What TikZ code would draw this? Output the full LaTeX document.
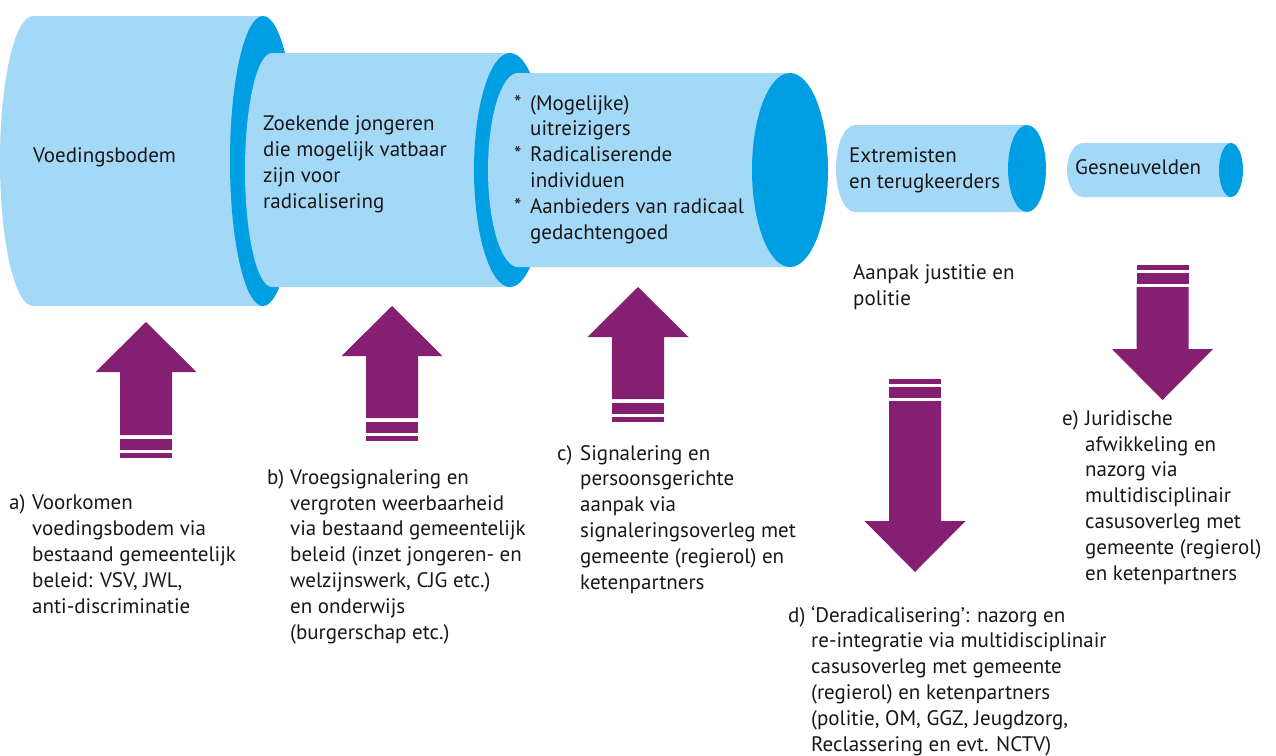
\documentclass[tikz,border=0pt]{standalone}
\usepackage{fontspec}
\setmainfont{PT Sans}
\definecolor{lightcyl}{RGB}{163,217,246}
\definecolor{darkcyl}{RGB}{0,159,227}
\definecolor{purp}{RGB}{132,31,114}
\definecolor{txtcol}{RGB}{26,23,27}
% cylinder: left x, right x, centre y, left x-radius, right x-radius, y-radius
\newcommand\mycyl[6]{%
  \fill[cylbody] (#2,#3+#6) -- (#1,#3+#6)
    arc[start angle=90,end angle=270,x radius=#4pt,y radius=#6pt]
    -- (#2,#3-#6) -- cycle;
  \fill[cylface] (#2,#3) ellipse[x radius=#5pt,y radius=#6pt];}
% up arrow: centre x, tip y, shaft bottom y (pixels, downwards)
\newcommand\myuparr[3]{%
  \fill[arrfill] (#1,-#2) -- (#1+50.5,-#2-50) -- (#1+26,-#2-50) -- (#1+26,-#3)
    -- (#1-26,-#3) -- (#1-26,-#2-50) -- (#1-50.5,-#2-50) -- cycle;
  \fill[arrfill] (#1-26,-#3-4) rectangle (#1+26,-#3-15);
  \fill[arrfill] (#1-26,-#3-18) rectangle (#1+26,-#3-23);}
% down arrow: centre x, shaft top y, tip y
\newcommand\mydownarr[3]{%
  \fill[arrfill] (#1,-#3) -- (#1+50.5,-#3+51) -- (#1+26,-#3+51) -- (#1+26,-#2)
    -- (#1-26,-#2) -- (#1-26,-#3+51) -- (#1-50.5,-#3+51) -- cycle;
  \fill[arrfill] (#1-26,-#2+3) rectangle (#1+26,-#2+14);
  \fill[arrfill] (#1-26,-#2+17) rectangle (#1+26,-#2+22);}
\newcommand\lab[1]{\makebox[23pt][l]{#1}}
\newcommand\ind{\hspace*{23pt}}
\newcommand\bul{\makebox[16pt][l]{*}}
\newcommand\bind{\hspace*{16pt}}
\begin{document}
\begin{tikzpicture}[x=1pt,y=1pt,
  txt/.style={font=\fontsize{21}{25.8}\selectfont, align=left, inner sep=0pt,
    anchor=base west, text=txtcol},
  cylbody/.style={fill=lightcyl},
  cylface/.style={fill=darkcyl},
  arrfill/.style={fill=purp}]
\useasboundingbox (0,0) rectangle (1276,-755);
\fill[white] (0,0) rectangle (1276,-755);
% cylinders
\mycyl{33}{263}{-161}{33}{33}{145}
\mycyl{272}{510}{-170}{27}{36}{117}
\mycyl{518}{790}{-170}{30}{38}{97}
\mycyl{855}{1027}{-168.5}{19}{19}{43.5}
\mycyl{1083}{1231}{-170}{16}{12}{27}
% cylinder texts (anchor = baseline of last line)
\node[txt] (t1) at (33,-162) {Voedingsbodem};
\node[txt] (t2) at (263,-208) {Zoekende jongeren\\die mogelijk vatbaar\\zijn voor\\radicalisering};
\node[txt] (t3) at (514,-239) {\bul(Mogelijke)\\\bind uitreizigers\\\bul Radicaliserende\\\bind individuen\\\bul Aanbieders van radicaal\\\bind gedachtengoed};
\node[txt] (t4) at (849,-188) {Extremisten\\en terugkeerders};
\node[txt] (t5) at (1075,-174) {Gesneuvelden};
\node[txt] (aanpak) at (853,-305) {Aanpak justitie en\\politie};
% arrows
\myuparr{146}{322}{435}
\myuparr{392}{306}{418}
\myuparr{638}{287}{399}
\mydownarr{915}{401}{572}
\mydownarr{1162.5}{287}{400}
% labels
\node[txt] (la) at (9,-613) {\lab{a)}Voorkomen\\\ind voedingsbodem via\\\ind bestaand gemeentelijk\\\ind beleid: VSV, JWL,\\\ind anti-discriminatie};
\node[txt] (lb) at (267,-639) {\lab{b)}Vroegsignalering en\\\ind vergroten weerbaarheid\\\ind via bestaand gemeentelijk\\\ind beleid (inzet jongeren- en\\\ind welzijnswerk, CJG etc.)\\\ind en onderwijs\\\ind (burgerschap etc.)};
\node[txt] (lc) at (557,-589) {\lab{c)}Signalering en\\\ind persoonsgerichte\\\ind aanpak via\\\ind signaleringsoverleg met\\\ind gemeente (regierol) en\\\ind ketenpartners};
\node[txt] (ld) at (788,-751) {\lab{d)}‘Deradicalisering’: nazorg en\\\ind re-integratie via multidisciplinair\\\ind casusoverleg met gemeente\\\ind (regierol) en ketenpartners\\\ind (politie, OM, GGZ, Jeugdzorg,\\\ind Reclassering en evt. NCTV)};
\node[txt] (le) at (1062,-580) {\lab{e)}Juridische\\\ind afwikkeling en\\\ind nazorg via\\\ind multidisciplinair\\\ind casusoverleg met\\\ind gemeente (regierol)\\\ind en ketenpartners};
\end{tikzpicture}
\end{document}
